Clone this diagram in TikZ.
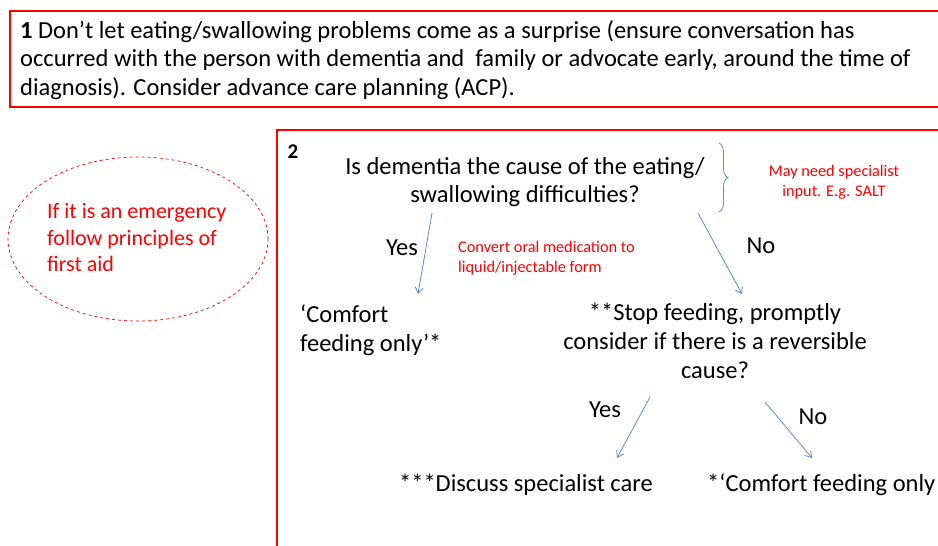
\documentclass[tikz,border=0pt]{standalone}
\usepackage{fontspec}
\setmainfont{Carlito}
\usetikzlibrary{arrows.meta,shapes.geometric,decorations.pathreplacing}
\definecolor{pred}{RGB}{255,0,0}
\definecolor{pblue}{RGB}{95,140,200}
\tikzset{
  x=1pt,y=-1pt,
  big/.style={font=\fontsize{24.5}{28.7}\selectfont, inner sep=0pt},
  small/.style={font=\fontsize{16.3}{19.5}\selectfont, text=pred, inner sep=0pt, align=left},
  arr/.style={draw=pblue, line width=0.8pt, -{Straight Barb[length=6pt,width=8pt]}},
  redbox/.style={draw=pred, line width=2.2pt},
}
\begin{document}
\begin{tikzpicture}
\clip (0,0) rectangle (938,546);
\fill[white] (0,0) rectangle (938,546);
% box 1
\draw[redbox] (10,11) rectangle (950,107);
\node[big, anchor=north west, align=left] (t1) at (20,20)
  {\textbf{1} Don’t let eating/swallowing problems come as a surprise (ensure conversation has\\
   occurred with the person with dementia and\ \ family or advocate early, around the time of\\
   diagnosis). Consider advance care planning (ACP).};
% box 2
\draw[redbox] (277,560) -- (277,130) -- (950,130);
\node[big, font=\fontsize{21}{24}\selectfont\bfseries] (n2) at (293,152) {2};
\node[big, align=center] (q) at (525,182)
  {Is dementia the cause of the eating/\\ swallowing difficulties?};
% brace
\draw[pblue, line width=0.8pt, decorate, decoration={brace, amplitude=9pt, aspect=0.5}]
  (719,143) coordinate (b1) -- (719,212) coordinate (b2);
\node[small, align=center] (salt) at (834,182) {May need specialist\\ input. E.g. SALT};
% ellipse
\node[draw=pred, dashed, line width=0.7pt, ellipse, minimum width=260pt, minimum height=164pt, inner sep=0pt] (ell) at (138,239) {};
\node[big, font=\fontsize{22}{26.5}\selectfont, text=pred, align=left, anchor=west] (em) at (47,238)
  {If it is an emergency\\ follow principles of\\ first aid};
% level 1
\coordinate (y1s) at (432,213);
\coordinate (y1e) at (418,294);
\coordinate (n1s) at (698,213);
\coordinate (n1e) at (742,294);
\draw[arr] (y1s) -- (y1e);
\draw[arr] (n1s) -- (n1e);
\node[big] (yes1) at (402,248) {Yes};
\node[big] (no1) at (761,246) {No};
\node[small, anchor=west] (conv) at (458,258) {Convert oral medication to\\ liquid/injectable form};
\node[big, align=left, anchor=west] (cf1) at (300,330) {‘Comfort\\ feeding only’*};
\node[big, align=center] (stop) at (715,341)
  {**Stop feeding, promptly\\ consider if there is a reversible\\ cause?};
% level 2
\coordinate (y2s) at (650,397);
\coordinate (y2e) at (617,458);
\coordinate (n2s) at (765,402);
\coordinate (n2e) at (812,458);
\draw[arr] (y2s) -- (y2e);
\draw[arr] (n2s) -- (n2e);
\node[big] (yes2) at (605,410) {Yes};
\node[big] (no2) at (813,417) {No};
\node[big] (disc) at (526,485) {***Discuss specialist care};
\node[big, anchor=west] (cf2) at (707,485) {*‘Comfort feeding only};
\end{tikzpicture}
\end{document}
